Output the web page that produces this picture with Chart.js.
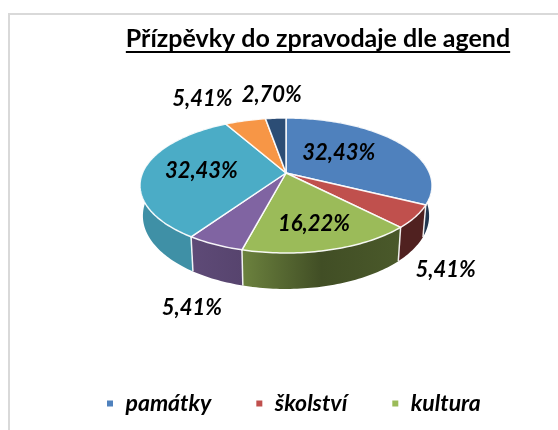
<!DOCTYPE html>
<html lang="cs"><head><meta charset="utf-8">
<style>
html,body{margin:0;padding:0;background:#fff;overflow:hidden}
#wrap{position:relative;width:558px;height:430px}
#frame{position:absolute;left:8px;top:13px;right:-4px;bottom:-4px;border-left:2px solid #d9d9d9;border-top:2px solid #d9d9d9}
canvas{position:absolute;left:0;top:0}
</style>
<script src="https://cdn.jsdelivr.net/npm/chart.js@4"></script>
</head><body><div id="wrap"><div id="frame"></div><canvas id="c" width="558" height="430"></canvas></div>
<script>
const titleText = 'Přízpěvky do zpravodaje dle agend';
const categories = ['památky','školství','kultura','','','',''];
const shares = [32.43,5.41,16.22,5.41,32.43,5.41,2.70];
const sliceColors = ['#4f81bd','#c0504d','#9bbb59','#8064a2','#4bacc6','#f79646','#2c4d75'];

// side-wall brightness along each slice's rim (left to right), as a factor of its colour
const sideShade = [[.42,.42],[.42,.42],[.7,.42,.48],[.74,.68],[.84,.84],[.8,.8],[.6,.6]];
// where each percentage sits: fraction of radius from the apex, then a pixel nudge
const labelPlace = [[.45,0,-5],[1,30,53],[.68,0,2],[1,-23,63.5],[.6,1,0],[1,-43,-22],[1,-4,-23]];
// perspective of the tilted disc; narrow = how much the lower rim converges
const view = {cx:286, cy:173, R:143.5, a:65.2, k:.185, D:29.3, narrow:.98};
const FONT = 'Lato';

function project(angle, r){
  const x = r*Math.cos(angle), y = r*Math.sin(angle), den = 1 - view.k*y;
  return {x: view.cx + view.R*x/den, y: view.cy + view.a*y/den, d: view.D/den, s: y};
}
function lowerX(p){ return view.cx + (p.x-view.cx)*view.narrow; }
function shade(hex, f){
  const n = parseInt(hex.slice(1),16);
  return `rgb(${(n>>16&255)*f|0},${(n>>8&255)*f|0},${(n&255)*f|0})`;
}
const tiltedPie = {
  id:'tiltedPie',
  afterLayout(chart){
    chart.legend.left = 106 - 44;
    chart.legend.top = 392 - 44;
  },
  beforeDatasetDraw(chart){
    const ctx = chart.ctx, arcs = chart.getDatasetMeta(0).data;
    // side walls
    arcs.forEach((arc,i)=>{
      const a0 = arc.startAngle, a1 = arc.endAngle, n = Math.ceil((a1-a0)/.02);
      const rim = [];
      for(let j=0;j<=n;j++) rim.push(project(a0+(a1-a0)*j/n,1));
      const xs = rim.map(p=>p.x), x0 = Math.min(...xs), x1 = Math.max(...xs);
      const g = ctx.createLinearGradient(x0,0,x1,0), st = sideShade[i];
      st.forEach((f,k)=>g.addColorStop(k/(st.length-1), shade(sliceColors[i],f)));
      ctx.beginPath();
      rim.forEach((p,j)=> j ? ctx.lineTo(p.x,p.y) : ctx.moveTo(p.x,p.y));
      rim.slice().reverse().forEach(p=>ctx.lineTo(lowerX(p),p.y+p.d));
      ctx.closePath(); ctx.fillStyle = g; ctx.fill();
    });
    // seams on the visible wall
    arcs.forEach(arc=>{
      const p = project(arc.startAngle,1);
      if(p.s>0){
        ctx.strokeStyle='rgba(255,255,255,.9)'; ctx.lineWidth=1.5;
        ctx.beginPath(); ctx.moveTo(p.x,p.y); ctx.lineTo(lowerX(p),p.y+p.d); ctx.stroke();
      }
    });
    // top faces
    arcs.forEach((arc,i)=>{
      const a0 = arc.startAngle, a1 = arc.endAngle, n = Math.ceil((a1-a0)/.02);
      ctx.beginPath(); ctx.moveTo(view.cx,view.cy);
      for(let j=0;j<=n;j++){ const p = project(a0+(a1-a0)*j/n,1); ctx.lineTo(p.x,p.y); }
      ctx.closePath();
      ctx.fillStyle = sliceColors[i]; ctx.fill();
      ctx.strokeStyle = 'rgba(255,255,255,.92)'; ctx.lineWidth = 1.5; ctx.lineJoin='round'; ctx.stroke();
    });
    // percentage labels
    ctx.fillStyle='#000'; ctx.textAlign='center'; ctx.textBaseline='middle';
    ctx.font = `italic bold 22px ${FONT}`;
    arcs.forEach((arc,i)=>{
      const [r,dx,dy] = labelPlace[i], p = project((arc.startAngle+arc.endAngle)/2, r);
      ctx.fillText(shares[i].toFixed(2).replace('.',',')+'%', p.x+dx, p.y+dy);
    });
    return false;
  },
  afterDraw(chart){
    const ctx = chart.ctx, t = chart.options.plugins.title;
    ctx.save();
    ctx.font = `bold ${t.font.size}px ${FONT}`;
    const w = ctx.measureText(titleText).width, mid = 318;
    ctx.fillStyle='#000'; ctx.fillRect(mid-w/2, 51, w, 2);
    ctx.restore();
  }
};
new Chart(document.getElementById('c'),{
  type:'pie',
  data:{labels:categories,datasets:[{data:shares,backgroundColor:sliceColors,borderColor:'#fff'}]},
  options:{
    responsive:false, animation:false, rotation:0,
    layout:{padding:{left:78}},
    plugins:{
      tooltip:{enabled:false},
      title:{display:true,text:titleText,color:'#000',font:{family:FONT,size:25,weight:'bold'},padding:{top:24,bottom:8}},
      legend:{position:'bottom',align:'start',
        labels:{boxWidth:8,boxHeight:8,padding:44,color:'#000',font:{family:FONT,size:23,style:'italic',weight:'bold'},
          filter:item=>item.text!==''}}
    }
  },
  plugins:[tiltedPie]
});
</script></body></html>
